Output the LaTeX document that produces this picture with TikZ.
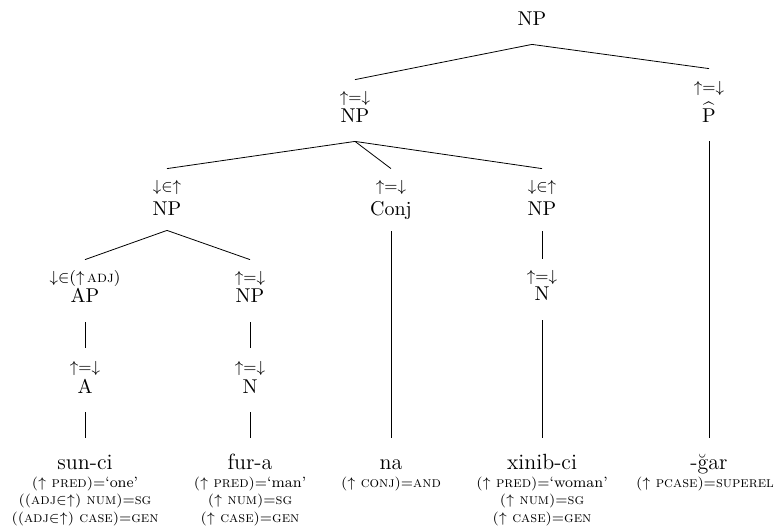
\documentclass[tikz,border=0pt]{standalone}
\usepackage{fontspec}
\usetikzlibrary{positioning}
\newcommand{\upa}{\mathord{\uparrow}}
\newcommand{\dna}{\mathord{\downarrow}}
\newcommand{\eqd}{\ensuremath{\upa{=}\dna}}
\newcommand{\mem}{\ensuremath{\dna{\in}\upa}}
\begin{document}
\begin{tikzpicture}[x=0.5pt,y=-0.5pt,
    cat/.style={inner sep=0pt,text height=7pt,text depth=2pt},
    word/.style={cat,font=\fontsize{11}{13}\selectfont},
    ann/.style={inner sep=0pt,font=\footnotesize,text height=6pt,text depth=2pt},
    fs/.style={inner sep=0pt,font=\fontsize{7.5}{8.8}\selectfont,align=center}]
    \useasboundingbox (0,0) rectangle (777,527);
    % categories with their annotations
    \node[cat] (np0) at (532,20) {NP};
    \node[cat] (np1) at (355,117) {NP};  \node[ann] (np1a) at (355,98) {\eqd};
    \node[cat] (phat) at (709,117) {$\widehat{\mbox{P}}$};  \node[ann] (phata) at (709,88) {\eqd};
    \node[cat] (np2) at (167,210) {NP};  \node[ann] (np2a) at (167,187) {\mem};
    \node[cat] (conj) at (391,210) {Conj};  \node[ann] (conja) at (391,187) {\eqd};
    \node[cat] (np3) at (542,210) {NP};  \node[ann] (np3a) at (542,187) {\mem};
    \node[cat] (ap) at (85,297) {AP};  \node[ann] (apa) at (85,278) {$\dna{\in}(\upa$\,\textsc{adj}$)$};
    \node[cat] (np4) at (250,297) {NP};  \node[ann] (np4a) at (250,278) {\eqd};
    \node[cat] (n3) at (542,295) {N};  \node[ann] (n3a) at (542,277) {\eqd};
    \node[cat] (a) at (85,388) {A};  \node[ann] (aa) at (85,368) {\eqd};
    \node[cat] (n4) at (250,388) {N};  \node[ann] (n4a) at (250,368) {\eqd};
    % words and their f-descriptions
    \node[word] (w1) at (85,464) {sun-ci};
    \node[word] (w2) at (250,464) {fur-a};
    \node[word] (w3) at (391,464) {na};
    \node[word] (w4) at (542,464) {xinib-ci};
    \node[word] (w5) at (709,464) {-ğar};
    \node[fs,below=1.5pt of w1] (f1) {$(\upa$ \textsc{pred}$){=}$`one'\\
        $(($\textsc{adj}${\in}\upa)$ \textsc{num}$){=}$\textsc{sg}\\
        $(($\textsc{adj}${\in}\upa)$ \textsc{case}$){=}$\textsc{gen}};
    \node[fs,below=1.5pt of w2] (f2) {$(\upa$ \textsc{pred}$){=}$`man'\\
        $(\upa$ \textsc{num}$){=}$\textsc{sg}\\
        $(\upa$ \textsc{case}$){=}$\textsc{gen}};
    \node[fs,below=1.5pt of w3] (f3) {$(\upa$ \textsc{conj}$){=}$\textsc{and}};
    \node[fs,below=1.5pt of w4] (f4) {$(\upa$ \textsc{pred}$){=}$`woman'\\
        $(\upa$ \textsc{num}$){=}$\textsc{sg}\\
        $(\upa$ \textsc{case}$){=}$\textsc{gen}};
    \node[fs,below=1.5pt of w5,xshift=-2pt] (f5) {$(\upa$ \textsc{pcase}$){=}$\textsc{superel}};
    % branches
    \draw ([yshift=-7.5pt]np0.south) -- ([yshift=5pt]np1a.north);
    \draw ([yshift=-7.5pt]np0.south) -- ([yshift=5.5pt]phata.north);
    \draw ([yshift=-7.5pt]np1.south) -- ([yshift=5pt]np2a.north);
    \draw ([yshift=-7.5pt]np1.south) -- ([yshift=5pt]conja.north);
    \draw ([yshift=-7.5pt]np1.south) -- ([yshift=5pt]np3a.north);
    \draw ([yshift=-7.5pt]phat.south) -- ([yshift=8.5pt]w5.north);
    \draw ([yshift=-5.5pt]np2.south) -- ([yshift=5pt]apa.north);
    \draw ([yshift=-5.5pt]np2.south) -- ([yshift=5pt]np4a.north);
    \draw ([yshift=-6pt]conj.south) -- ([yshift=8.5pt]w3.north);
    \draw ([yshift=-6pt]np3.south) -- ([yshift=5pt]n3a.north);
    \draw ([yshift=-8pt]n3.south) -- ([yshift=8.5pt]w4.north);
    \draw ([yshift=-8pt]ap.south) -- ([yshift=6pt]aa.north);
    \draw ([yshift=-8pt]np4.south) -- ([yshift=6pt]n4a.north);
    \draw ([yshift=-7.5pt]a.south) -- ([yshift=8.5pt]w1.north);
    \draw ([yshift=-7.5pt]n4.south) -- ([yshift=8.5pt]w2.north);
\end{tikzpicture}
\end{document}
